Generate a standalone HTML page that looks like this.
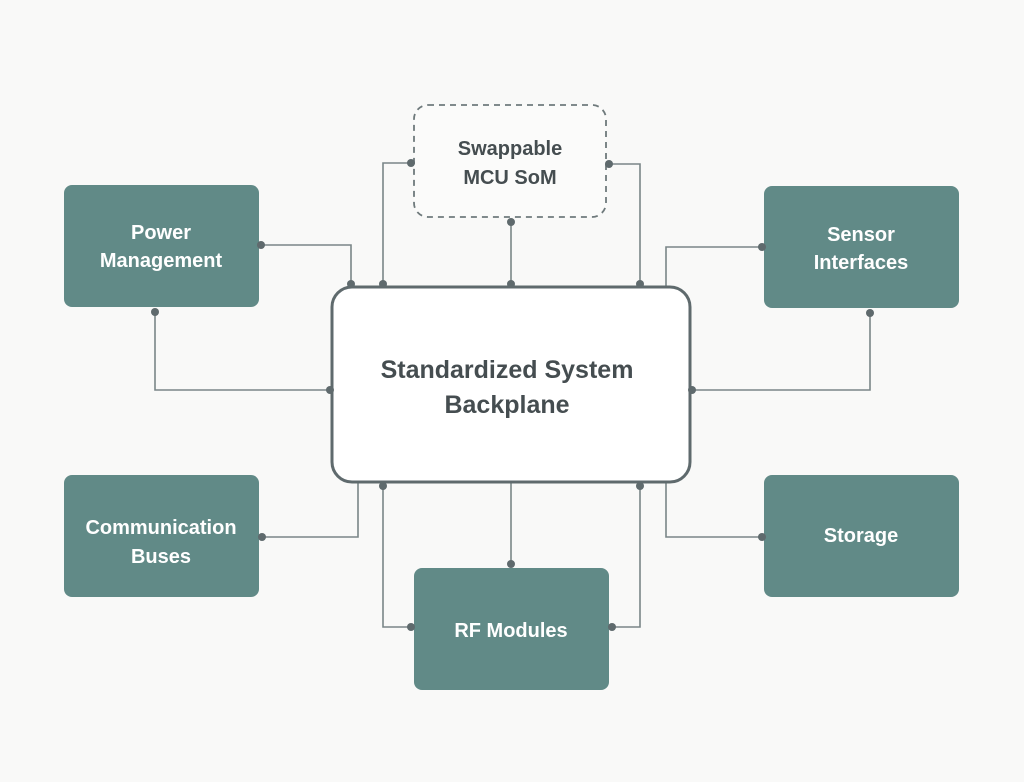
<!DOCTYPE html>
<html><head><meta charset="utf-8"><style>
html,body{margin:0;padding:0;background:#f9f9f8;}
svg{display:block;font-family:"Liberation Sans",sans-serif;}
</style></head><body>
<svg width="1024" height="782" viewBox="0 0 1024 782" xmlns="http://www.w3.org/2000/svg">
<rect width="1024" height="782" fill="#f9f9f8"/>
<g fill="none" stroke="#7a8688" stroke-width="1.6">
<polyline points="261,245 351,245 351,284"/>
<polyline points="411,163 383,163 383,284"/>
<polyline points="511,222 511,284"/>
<polyline points="609,164 640,164 640,284"/>
<polyline points="762,247 666,247 666,287"/>
<polyline points="155,312 155,390 330,390"/>
<polyline points="870,313 870,390 692,390"/>
<polyline points="262,537 358,537 358,482"/>
<polyline points="383,486 383,627 411,627"/>
<polyline points="511,482 511,564"/>
<polyline points="640,486 640,627 612,627"/>
<polyline points="762,537 666,537 666,482"/>
</g>
<rect x="414" y="105" width="192" height="112" rx="14" fill="#fbfbfa" stroke="#6f7a7c" stroke-width="1.8" stroke-dasharray="6,5"/>
<rect x="332" y="287" width="358" height="195" rx="20" fill="#ffffff" stroke="#5f6a6d" stroke-width="3"/>
<g fill="#618a87">
<rect x="64" y="185" width="195" height="122" rx="8"/>
<rect x="764" y="186" width="195" height="122" rx="8"/>
<rect x="64" y="475" width="195" height="122" rx="8"/>
<rect x="764" y="475" width="195" height="122" rx="8"/>
<rect x="414" y="568" width="195" height="122" rx="8"/>
</g>
<g fill="#5f6a6d">
<circle cx="261" cy="245" r="4"/><circle cx="351" cy="284" r="4"/>
<circle cx="411" cy="163" r="4"/><circle cx="383" cy="284" r="4"/>
<circle cx="511" cy="222" r="4"/><circle cx="511" cy="284" r="4"/>
<circle cx="609" cy="164" r="4"/><circle cx="640" cy="284" r="4"/>
<circle cx="762" cy="247" r="4"/>
<circle cx="155" cy="312" r="4"/><circle cx="330" cy="390" r="4"/>
<circle cx="870" cy="313" r="4"/><circle cx="692" cy="390" r="4"/>
<circle cx="262" cy="537" r="4"/>
<circle cx="383" cy="486" r="4"/><circle cx="411" cy="627" r="4"/>
<circle cx="511" cy="564" r="4"/>
<circle cx="640" cy="486" r="4"/><circle cx="612" cy="627" r="4"/>
<circle cx="762" cy="537" r="4"/>
</g>
<g text-anchor="middle" font-size="20" font-weight="bold" fill="#ffffff">
<text x="161" y="239">Power</text><text x="161" y="267">Management</text>
<text x="861" y="241">Sensor</text><text x="861" y="269">Interfaces</text>
<text x="161" y="534">Communication</text><text x="161" y="563">Buses</text>
<text x="861" y="542">Storage</text>
<text x="511" y="637">RF Modules</text>
</g>
<g text-anchor="middle" fill="#454d50" font-weight="bold">
<text x="510" y="155" font-size="20">Swappable</text>
<text x="510" y="184" font-size="20">MCU SoM</text>
<text x="507" y="378" font-size="25">Standardized System</text>
<text x="507" y="413" font-size="25">Backplane</text>
</g>
</svg>
</body></html>
